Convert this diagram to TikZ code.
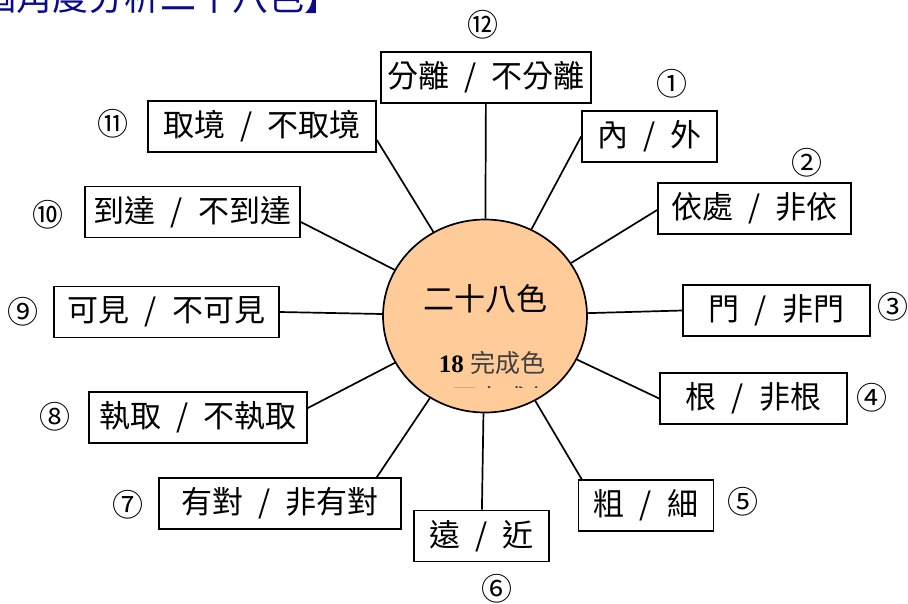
\documentclass[tikz,border=0pt]{standalone}
\usepackage{fontspec}
\setmainfont{Noto Sans CJK TC}[WordSpace=2.2]
\newfontfamily\numfont{Liberation Serif}
\usetikzlibrary{shapes.geometric,calc}
\definecolor{hubfill}{RGB}{255,204,153}
\definecolor{titleblue}{RGB}{10,10,140}

\tikzset{
  pair/.style={draw,line width=1.7pt,minimum height=51,inner sep=0pt,font=\fontsize{31}{36}\selectfont},
  num/.style={inner sep=0pt,font=\fontsize{31}{34}\selectfont},
  spoke/.style={line width=1.7pt}
}

\begin{document}
\begin{tikzpicture}[x=1pt,y=-1pt]
  \useasboundingbox (0,0) rectangle (908,603);
  \node[anchor=base west,inner sep=0pt,text=titleblue,font=\fontsize{36}{40}\selectfont] (title) at (-20,10.5) {個角度分析二十八色】};

  % centre
  \node[ellipse,draw,line width=1.7pt,fill=hubfill,minimum width=204,minimum height=193,inner sep=0pt] (c) at (485,316) {};
  \node[font=\fontsize{31}{36}\selectfont] (hubname) at (485,299) {二十八色};
  \node[anchor=base,inner sep=0pt,font=\fontsize{25}{30}\selectfont,text=black!75] (hubdone) at (492,372) {{\numfont\bfseries\color{black}18 }完成色};
  \begin{scope}
    \clip (380,370) rectangle (590,387);
    \node[anchor=base,inner sep=0pt,font=\fontsize{25}{30}\selectfont,text=black!75] (hubnot) at (486.5,407) {{\numfont\bfseries\color{black}10 }不完成色};
  \end{scope}

  % pairs
  \node[pair,minimum width=210] (b12) at (486,77.5) {分離 / 不分離};
  \node[pair,minimum width=135] (b1) at (649.5,136.5) {內 / 外};
  \node[pair,minimum width=193] (b2) at (754.5,208.5) {依處 / 非依};
  \node[pair,minimum width=187] (b3) at (776.5,310.5) {門 / 非門};
  \node[pair,minimum width=187] (b4) at (753.5,398.5) {根 / 非根};
  \node[pair,minimum width=135] (b5) at (646,505.5) {粗 / 細};
  \node[pair,minimum width=135] (b6) at (481.5,536) {遠 / 近};
  \node[pair,minimum width=242] (b7) at (280,503.5) {有對 / 非有對};
  \node[pair,minimum width=218] (b8) at (198,417.5) {執取 / 不執取};
  \node[pair,minimum width=225] (b9) at (166.5,312) {可見 / 不可見};
  \node[pair,minimum width=215] (b10) at (192.5,212) {到達 / 不到達};
  \node[pair,minimum width=228] (b11) at (262,126.5) {取境 / 不取境};

  % numbers
  \node[num] (n12) at (483,25) {⑫};
  \node[num] (n1) at (672,84) {①};
  \node[num] (n2) at (807,163) {②};
  \node[num] (n3) at (893,307) {③};
  \node[num] (n4) at (872,398) {④};
  \node[num] (n5) at (743,502) {⑤};
  \node[num] (n6) at (497,589) {⑥};
  \node[num] (n7) at (128,505) {⑦};
  \node[num] (n8) at (55,417) {⑧};
  \node[num] (n9) at (23,312) {⑨};
  \node[num] (n10) at (48,215) {⑩};
  \node[num] (n11) at (113,124) {⑪};

  \path[spoke]
    (b12) edge (c)
    (b1.west) edge (c)
    ($(b2.west)+(0,1.5)$) edge (c)
    (b3.west) edge (c)
    (b4.west) edge (c)
    ($(b5.north west)+(4,0)$) edge (c)
    (b6) edge (c)
    ($(b7.north east)+(-25,0)$) edge (c)
    ($(b8.east)+(0,-9.5)$) edge (c)
    (b9.east) edge (c)
    ($(b10.east)+(0,10)$) edge (c)
    ($(b11.east)+(0,13.5)$) edge (c);
\end{tikzpicture}
\end{document}
